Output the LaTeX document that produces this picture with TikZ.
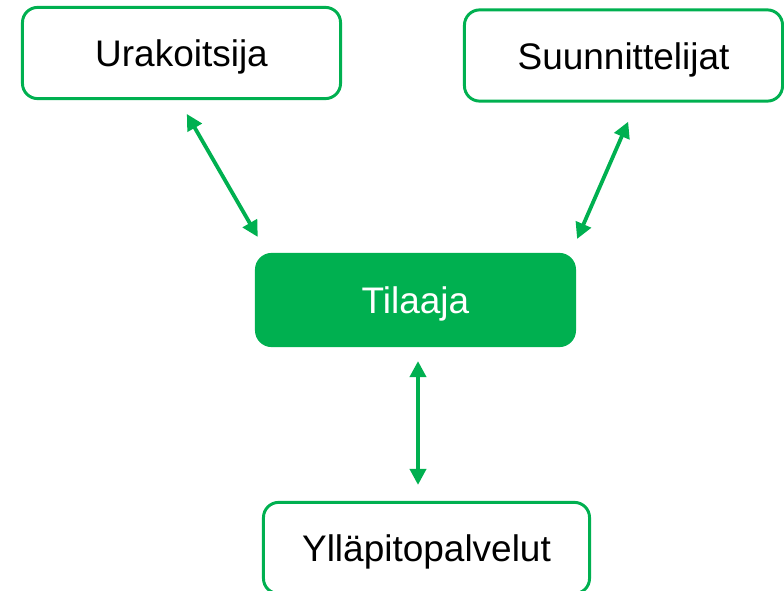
\documentclass[tikz,border=0pt]{standalone}
\usepackage{fontspec}
\setmainfont{Liberation Sans}
\usepackage{xcolor}
\usetikzlibrary{arrows.meta,positioning,calc}
\definecolor{tgreen}{HTML}{00B050}
\newcommand{\boxfont}{\fontsize{26.3}{31}\selectfont}

\begin{document}
\begin{tikzpicture}[x=0.025cm,y=-0.025cm,font=\boxfont,
  box/.style={draw=tgreen,line width=2.1pt,rounded corners=0.38cm,fill=white,
    minimum width=7.95cm,minimum height=2.28cm,inner sep=0pt,
    text height=19.5pt,text depth=0pt},
  mainbox/.style={box,fill=tgreen,text=white},
  link/.style={tgreen,line width=2.7pt,
    {Triangle[length=0.4cm,width=0.4cm]}-{Triangle[length=0.4cm,width=0.4cm]}}]
\useasboundingbox (0,0) rectangle (784,591);
\node[box] (ura) at (181.5,53) {Urakoitsija};
\node[box] (suu) at (623.5,55.5) {Suunnittelijat};
\node[mainbox] (til) at (415.5,300) {Tilaaja};
\node[box,minimum width=8.15cm] (yll) at (426.5,548) {Ylläpitopalvelut};
\draw[link,shorten <=0.4cm,shorten >=0.46cm] ($(ura.south)+(-2.7,0)$) -- ($(til.north west)+(12,0)$);
\draw[link,shorten <=0.52cm,shorten >=0.38cm] ($(suu.south)+(13,0)$) -- ($(til.north east)+(-5,0)$);
\draw[link,shorten <=0.35cm,shorten >=0.4cm] ($(til.south)+(2.5,0)$) -- ($(til.south |- yll.north)+(2.5,0)$);
\end{tikzpicture}
\end{document}
